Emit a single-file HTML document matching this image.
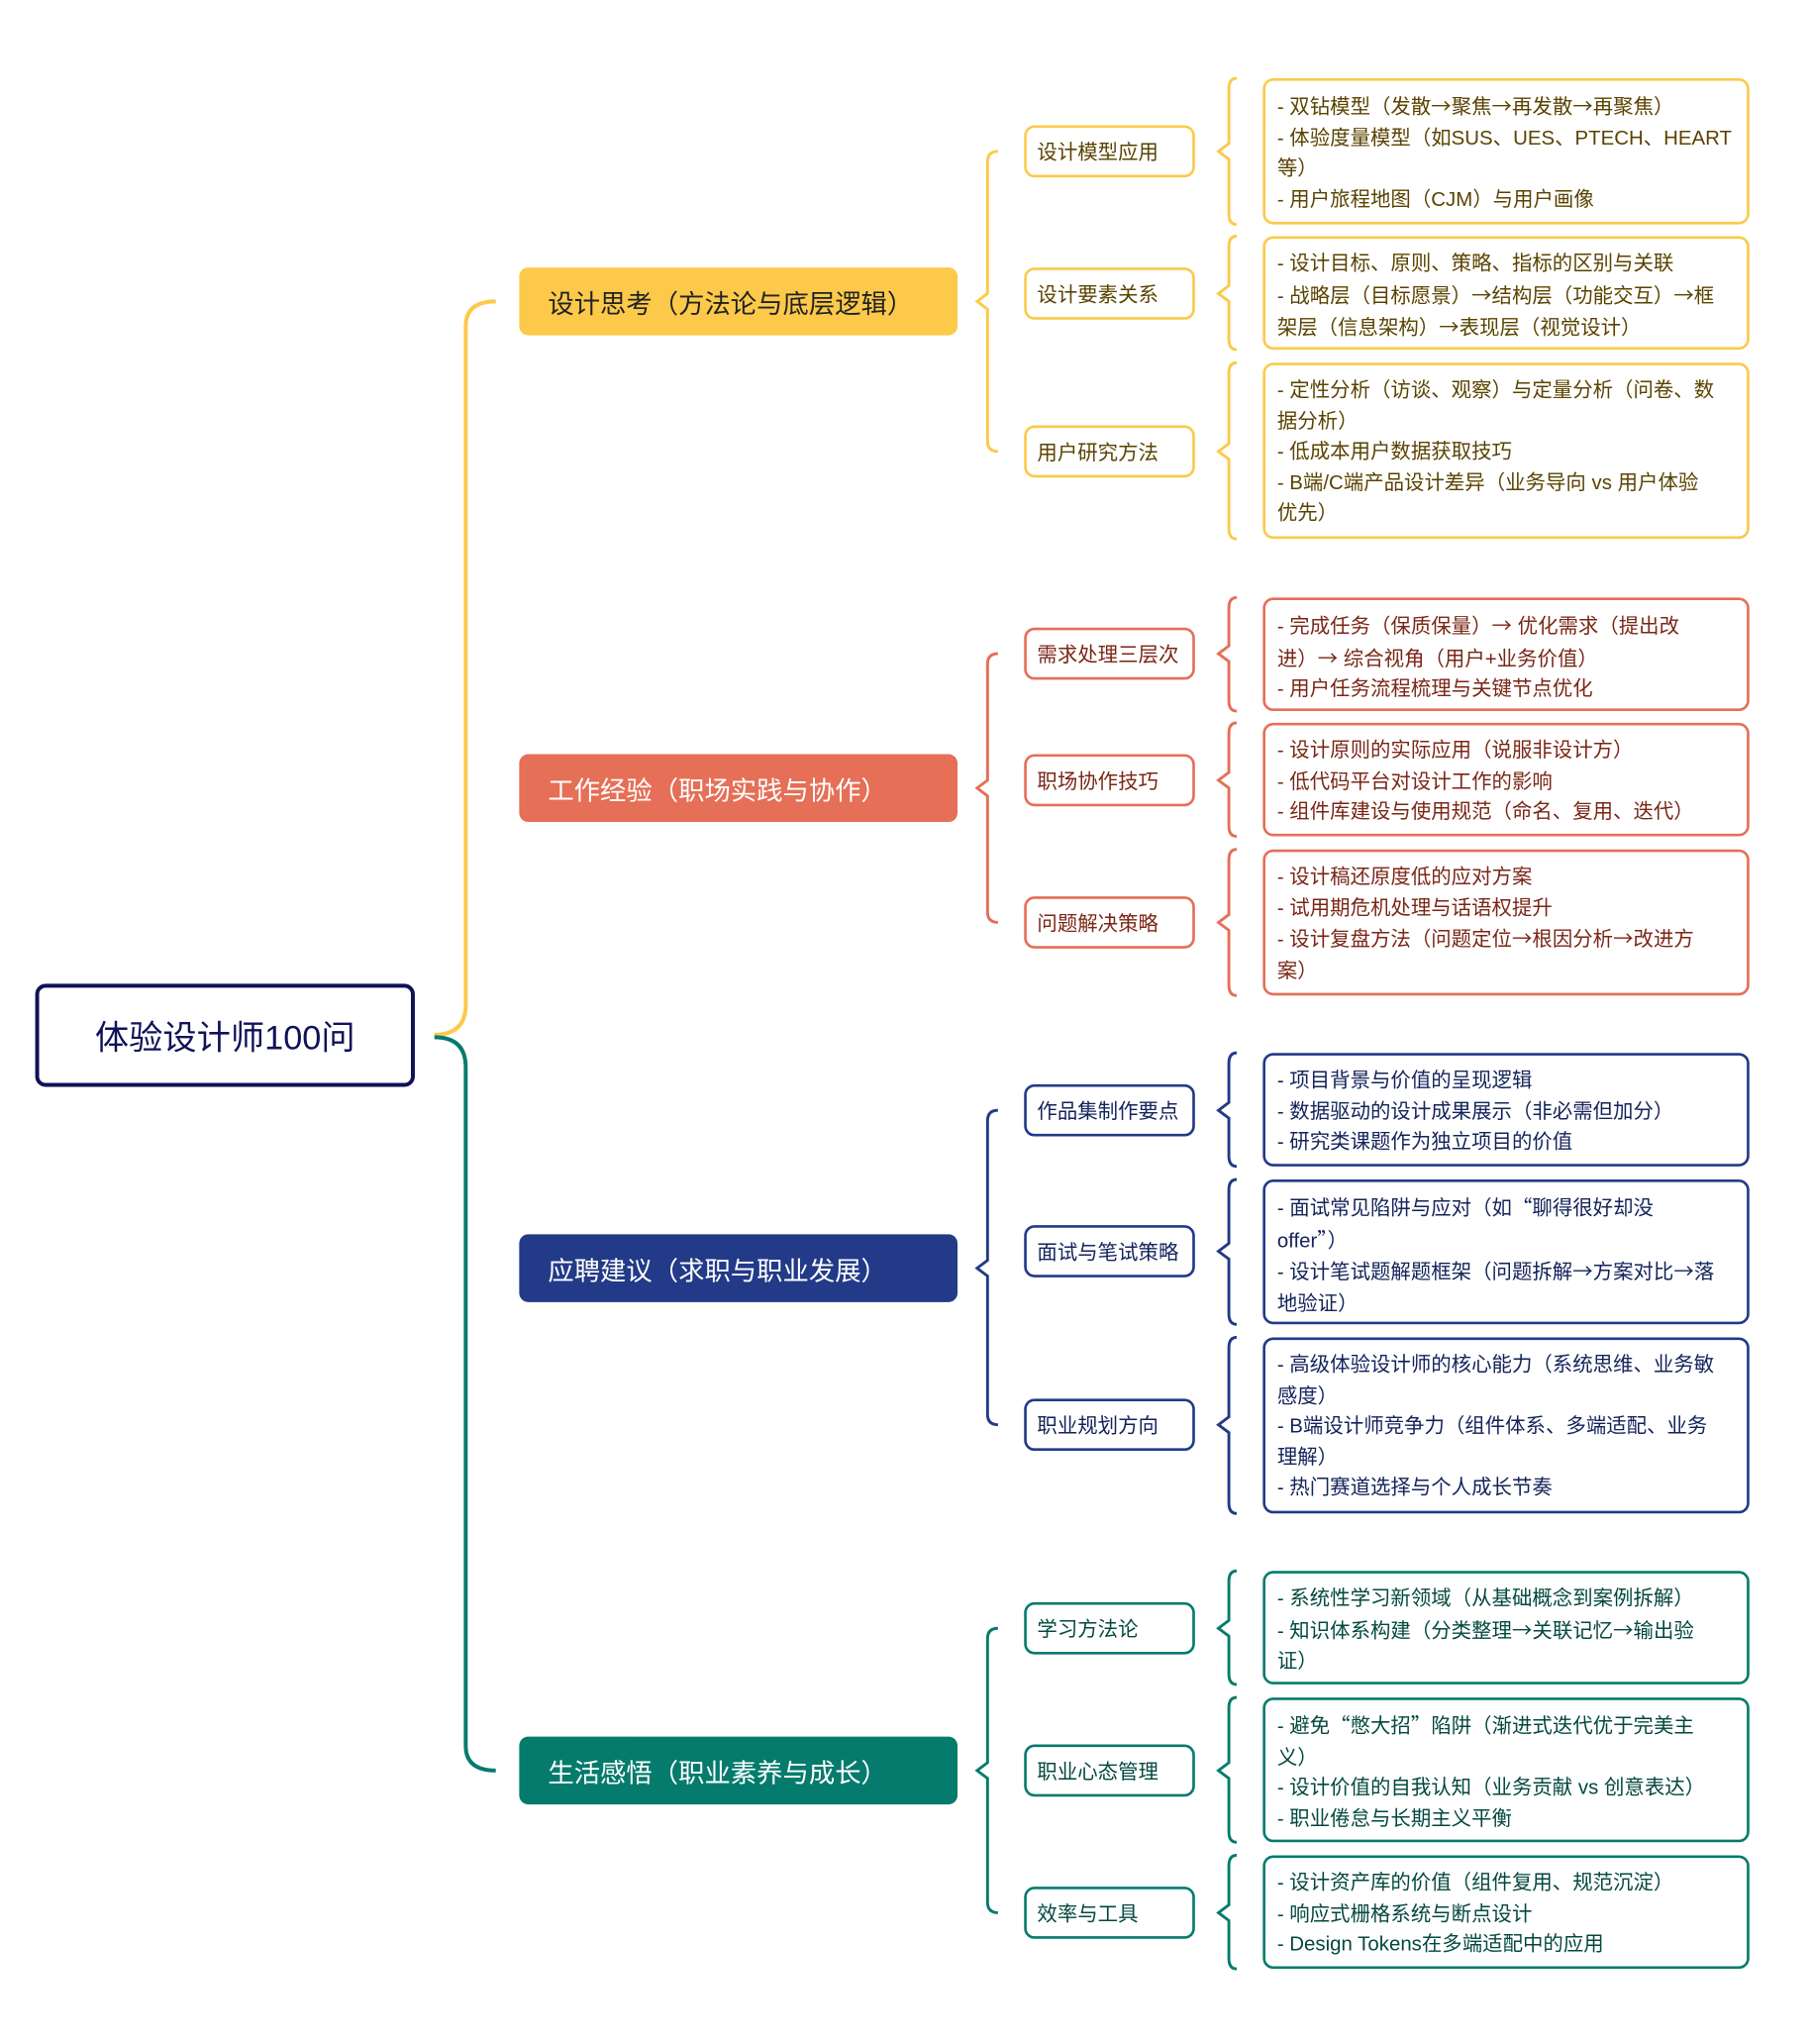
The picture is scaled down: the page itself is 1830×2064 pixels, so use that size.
<!DOCTYPE html>
<html><head><meta charset="utf-8"><style>
html,body{margin:0;padding:0;background:#fff;}
body{width:1830px;height:2064px;overflow:hidden;position:relative;}
#w{position:absolute;left:0;top:0;width:1385px;height:1562px;transform:scale(1.3175);transform-origin:0 0;font-family:"Liberation Sans","Noto Sans CJK SC",sans-serif;}
i{font-style:normal;font-family:"Noto Sans CJK SC",sans-serif;}
.b{position:absolute;box-sizing:border-box;}
.root{left:27px;top:754px;width:291px;height:79px;border:3px solid #0f1258;border-radius:8px;color:#0f1258;font-size:26px;display:flex;align-items:center;justify-content:center;}
.l1{left:398px;width:336px;height:52px;border-radius:7px;font-size:20px;padding-left:22px;display:flex;align-items:center;color:#fff;}
.l2{left:785px;width:131px;height:40px;border:2px solid;border-radius:8px;font-size:15.5px;padding-left:8px;display:flex;align-items:center;background:#fff;}
.l3{left:968px;width:373px;border:2px solid;border-radius:8px;font-size:15.5px;padding:8px 8px 0 9px;line-height:23.6px;white-space:nowrap;background:#fff;}
.y{border-color:#fcc94a;color:#5a4300}
.r{border-color:#e56f57;color:#7a2616}
.n{border-color:#223a87;color:#13235a}
.t{border-color:#047b6d;color:#03483f}
svg{position:absolute;left:0;top:0}
</style></head><body><div id="w">
<svg width="1385" height="1562" fill="none" stroke-width="2.2">
<path d="M333,793 Q357,793 357,770 L357,250 Q357,231 380,231" stroke="#fcc94a" stroke-width="3"/>
<path d="M333,795 Q357,795 357,818 L357,1338 Q357,1357 380,1357" stroke="#047b6d" stroke-width="3"/>
<g stroke="#fcc94a"><path d="M765,116 Q757,116 757,124 L757,225 L749,231 L757,237 L757,338 Q757,346 765,346"/>
<path d="M948,60 Q942,60 942,68 L942,110 L934,116 L942,122 L942,164 Q942,172 948,172"/>
<path d="M948,181 Q942,181 942,189 L942,219 L934,225 L942,231 L942,260 Q942,268 948,268"/>
<path d="M948,278 Q942,278 942,286 L942,340 L934,346 L942,352 L942,405 Q942,413 948,413"/></g>
<g stroke="#e56f57"><path d="M765,501 Q757,501 757,509 L757,598 L749,604 L757,610 L757,699 Q757,707 765,707"/>
<path d="M948,458 Q942,458 942,466 L942,495 L934,501 L942,507 L942,537 Q942,545 948,545"/>
<path d="M948,554 Q942,554 942,562 L942,592 L934,598 L942,604 L942,633 Q942,641 948,641"/>
<path d="M948,651 Q942,651 942,659 L942,701 L934,707 L942,713 L942,755 Q942,763 948,763"/></g>
<g stroke="#223a87"><path d="M765,851 Q757,851 757,859 L757,966 L749,972 L757,978 L757,1084 Q757,1092 765,1092"/>
<path d="M948,807 Q942,807 942,815 L942,845 L934,851 L942,857 L942,886 Q942,894 948,894"/>
<path d="M948,904 Q942,904 942,912 L942,953 L934,959 L942,965 L942,1007 Q942,1015 948,1015"/>
<path d="M948,1025 Q942,1025 942,1033 L942,1086 L934,1092 L942,1098 L942,1152 Q942,1160 948,1160"/></g>
<g stroke="#047b6d"><path d="M765,1248 Q757,1248 757,1256 L757,1351 L749,1357 L757,1363 L757,1458 Q757,1466 765,1466"/>
<path d="M948,1204 Q942,1204 942,1212 L942,1242 L934,1248 L942,1254 L942,1283 Q942,1291 948,1291"/>
<path d="M948,1301 Q942,1301 942,1309 L942,1351 L934,1357 L942,1363 L942,1404 Q942,1412 948,1412"/>
<path d="M948,1422 Q942,1422 942,1430 L942,1460 L934,1466 L942,1472 L942,1501 Q942,1509 948,1509"/></g>
</svg>
<div class="b root">体验设计师100问</div>
<div class="b l1" style="top:205px;background:#fcc94a;color:#222">设计思考（方法论与底层逻辑）</div>
<div class="b l1" style="top:578px;background:#e56f57">工作经验（职场实践与协作）</div>
<div class="b l1" style="top:946px;background:#223a87">应聘建议（求职与职业发展）</div>
<div class="b l1" style="top:1331px;background:#047b6d">生活感悟（职业素养与成长）</div>

<div class="b l2 y" style="top:96px">设计模型应用</div>
<div class="b l2 y" style="top:205px">设计要素关系</div>
<div class="b l2 y" style="top:326px">用户研究方法</div>
<div class="b l2 r" style="top:481px">需求处理三层次</div>
<div class="b l2 r" style="top:578px">职场协作技巧</div>
<div class="b l2 r" style="top:687px">问题解决策略</div>
<div class="b l2 n" style="top:831px">作品集制作要点</div>
<div class="b l2 n" style="top:939px">面试与笔试策略</div>
<div class="b l2 n" style="top:1072px">职业规划方向</div>
<div class="b l2 t" style="top:1228px">学习方法论</div>
<div class="b l2 t" style="top:1337px">职业心态管理</div>
<div class="b l2 t" style="top:1446px">效率与工具</div>

<div class="b l3 y" style="top:60px;height:112px">- 双钻模型（发散<i>→</i>聚焦<i>→</i>再发散<i>→</i>再聚焦）<br>- 体验度量模型（如SUS、UES、PTECH、HEART<br>等）<br>- 用户旅程地图（CJM）与用户画像</div>
<div class="b l3 y" style="top:181px;height:87px">- 设计目标、原则、策略、指标的区别与关联<br>- 战略层（目标愿景）<i>→</i>结构层（功能交互）<i>→</i>框<br>架层（信息架构）<i>→</i>表现层（视觉设计）</div>
<div class="b l3 y" style="top:278px;height:135px">- 定性分析（访谈、观察）与定量分析（问卷、数<br>据分析）<br>- 低成本用户数据获取技巧<br>- B端/C端产品设计差异（业务导向 vs 用户体验<br>优先）</div>
<div class="b l3 r" style="top:458px;height:87px">- 完成任务（保质保量）<i>→</i> 优化需求（提出改<br>进）<i>→</i> 综合视角（用户+业务价值）<br>- 用户任务流程梳理与关键节点优化</div>
<div class="b l3 r" style="top:554px;height:87px">- 设计原则的实际应用（说服非设计方）<br>- 低代码平台对设计工作的影响<br>- 组件库建设与使用规范（命名、复用、迭代）</div>
<div class="b l3 r" style="top:651px;height:112px">- 设计稿还原度低的应对方案<br>- 试用期危机处理与话语权提升<br>- 设计复盘方法（问题定位<i>→</i>根因分析<i>→</i>改进方<br>案）</div>
<div class="b l3 n" style="top:807px;height:87px">- 项目背景与价值的呈现逻辑<br>- 数据驱动的设计成果展示（非必需但加分）<br>- 研究类课题作为独立项目的价值</div>
<div class="b l3 n" style="top:904px;height:111px">- 面试常见陷阱与应对（如<i>“</i>聊得很好却没<br>offer<i>”</i>）<br>- 设计笔试题解题框架（问题拆解<i>→</i>方案对比<i>→</i>落<br>地验证）</div>
<div class="b l3 n" style="top:1025px;height:135px">- 高级体验设计师的核心能力（系统思维、业务敏<br>感度）<br>- B端设计师竞争力（组件体系、多端适配、业务<br>理解）<br>- 热门赛道选择与个人成长节奏</div>
<div class="b l3 t" style="top:1204px;height:87px">- 系统性学习新领域（从基础概念到案例拆解）<br>- 知识体系构建（分类整理<i>→</i>关联记忆<i>→</i>输出验<br>证）</div>
<div class="b l3 t" style="top:1301px;height:111px">- 避免<i>“</i>憋大招<i>”</i>陷阱（渐进式迭代优于完美主<br>义）<br>- 设计价值的自我认知（业务贡献 vs 创意表达）<br>- 职业倦怠与长期主义平衡</div>
<div class="b l3 t" style="top:1422px;height:87px">- 设计资产库的价值（组件复用、规范沉淀）<br>- 响应式栅格系统与断点设计<br>- Design Tokens在多端适配中的应用</div>
</div></body></html>
